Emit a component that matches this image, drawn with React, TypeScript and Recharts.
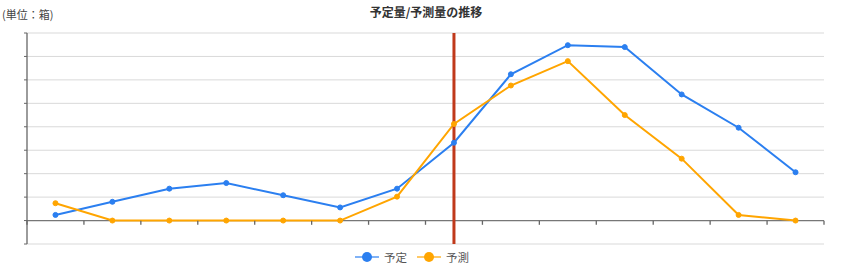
import { LineChart, Line, XAxis, YAxis, CartesianGrid, ReferenceLine, Legend } from "recharts";

const periods = ["1", "2", "3", "4", "5", "6", "7", "8", "9", "10", "11", "12", "13", "14"];
const planned = [12, 40, 68, 80, 54, 28, 68, 166, 312, 374, 370, 269, 198, 103];
const forecast = [37, 0, 0, 0, 0, 0, 51, 206, 288, 340, 225, 132, 12, 0];
const yTicks = [-50, 0, 50, 100, 150, 200, 250, 300, 350, 400];
const boundaryTicks = [0, 1, 2, 3, 4, 5, 6, 7, 8, 9, 10, 11, 12, 13, 14];
const currentIndex = 7;

const series = [
  { key: "planned", name: "予定", color: "#2b7ff0" },
  { key: "forecast", name: "予測", color: "#ffa500" },
];

const data = periods.map((p, i) => ({
  period: p,
  pos: i + 0.5,
  planned: planned[i],
  forecast: forecast[i],
}));

// height of the band below zero, used to put the x ticks on the zero line
const BELOW_ZERO = 23.2;

const XTick = (props: any) => {
  const { x, y } = props;
  return <line x1={x} x2={x} y1={y - BELOW_ZERO} y2={y - BELOW_ZERO + 4} stroke="#666" strokeWidth={1.3} />;
};

const LegendContent = () => (
  <div style={{ display: "flex", justifyContent: "center", gap: 10, fontSize: 11.5, color: "#555" }}>
    {series.map((s) => (
      <div key={s.key} style={{ display: "flex", alignItems: "center", gap: 5 }}>
        <svg width={24} height={12}>
          <line x1={0} x2={24} y1={6} y2={6} stroke={s.color} strokeOpacity={0.6} strokeWidth={2} />
          <circle cx={12} cy={6} r={5} fill={s.color} />
        </svg>
        <span>{s.name}</span>
      </div>
    ))}
  </div>
);

export default function App() {
  return (
    <div
      style={{
        position: "absolute",
        left: 0,
        top: 0,
        width: 852,
        height: 276,
        fontFamily: "'Noto Sans CJK JP', 'Noto Sans', sans-serif",
        background: "#fff",
      }}
    >
      <div style={{ position: "absolute", left: 0, right: 0, top: 3, textAlign: "center", fontSize: 12, fontWeight: "bold", color: "#333" }}>
        予定量/予測量の推移
      </div>
      <div style={{ position: "absolute", left: 2, top: 6, fontSize: 11, color: "#444" }}>(単位：箱)</div>
      <LineChart width={852} height={276} data={data} margin={{ top: 33, right: 28, left: 0, bottom: 6 }}>
        <CartesianGrid vertical={false} stroke="#d9d9d9" />
        <XAxis
          dataKey="pos"
          type="number"
          domain={[0, 14]}
          ticks={boundaryTicks}
          axisLine={false}
          tickLine={false}
          tickSize={0}
          tickMargin={0}
          height={10}
          tick={<XTick />}
          interval={0}
        />
        <YAxis
          domain={[-50, 400]}
          ticks={yTicks}
          width={27}
          tickFormatter={() => ""}
          tickSize={3}
          axisLine={{ stroke: "#666", strokeWidth: 1.3 }}
          tickLine={{ stroke: "#666" }}
        />
        <ReferenceLine y={0} stroke="#777" strokeWidth={1.3} />
        {series.map((s) => (
          <Line
            key={s.key}
            dataKey={s.key}
            name={s.name}
            stroke={s.color}
            strokeWidth={2}
            dot={{ r: 2.5, fill: s.color, stroke: s.color, strokeWidth: 1 }}
            isAnimationActive={false}
          />
        ))}
        <ReferenceLine x={currentIndex + 0.5} stroke="#c0391b" strokeWidth={3} />
        <Legend verticalAlign="bottom" content={<LegendContent />} wrapperStyle={{ bottom: 11 }} />
      </LineChart>
    </div>
  );
}
